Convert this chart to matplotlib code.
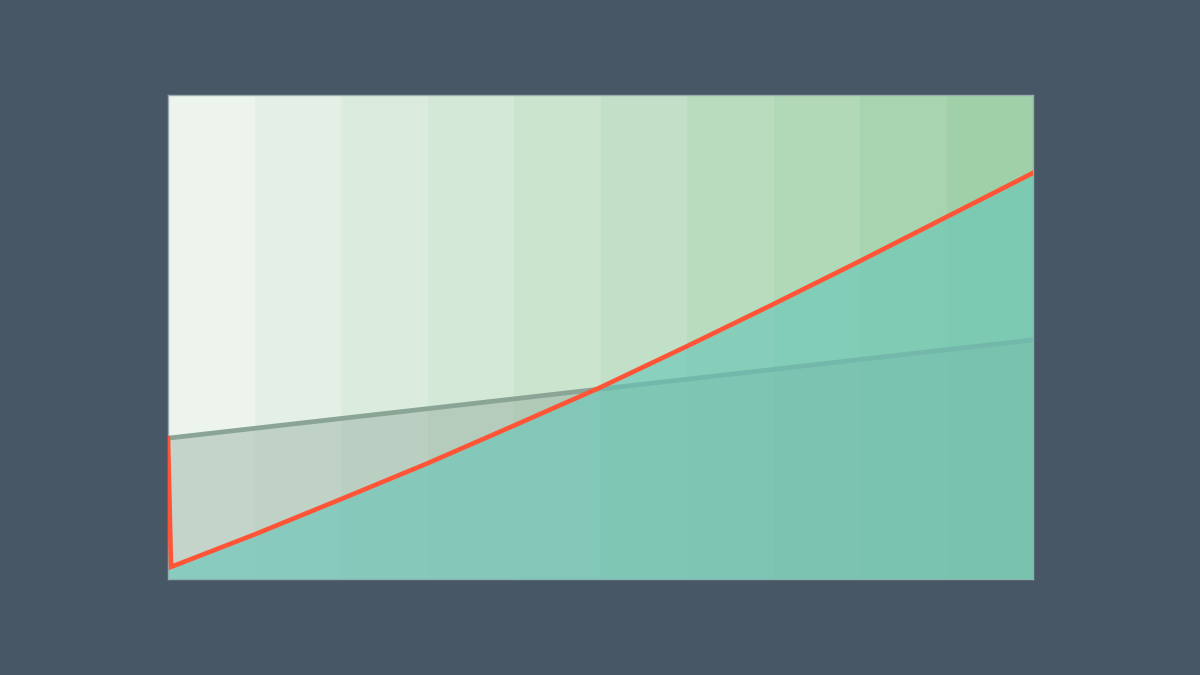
import numpy as np
import matplotlib
matplotlib.use("Agg")
import matplotlib.pyplot as plt
from matplotlib.colors import to_rgb

# data (x = band index, y = 0..100)
gray_x = [0, 10]
gray_y = [29.1, 49.4]

red_x = [0, 0.035, 1, 2, 3, 4, 5, 6, 7, 8, 9, 10]
red_y = [29.1, 2.5, 9.2, 16.5, 23.9, 31.7, 39.6, 48.1, 56.8, 65.7, 74.8, 83.9]

n_bands = 10

BG = "#475766"
BAND_START = "#ecf4ed"
BAND_END = "#a0d0a8"
GRAY = "#8aa496"
TEAL = "#64c6b8"
RED = "#ff5436"

fig = plt.figure(figsize=(12, 6.75), dpi=100, facecolor=BG)
ax = fig.add_axes([168 / 1200, 96 / 675, 865 / 1200, 484 / 675])

# vertical background bands, light to green
c0 = np.array(to_rgb(BAND_START))
c1 = np.array(to_rgb(BAND_END))
for i in range(n_bands):
    t = i / (n_bands - 1)
    ax.axvspan(i, i + 1, color=c0 + (c1 - c0) * t, lw=0, zorder=0)

# gray series
ax.fill_between(gray_x, gray_y, 0, color=GRAY, alpha=0.4, lw=0, zorder=1)
ax.plot(gray_x, gray_y, color=GRAY, lw=3.4, solid_capstyle="butt", zorder=2)

# teal area under red line
ax.fill_between(red_x, red_y, 0, color=TEAL, alpha=0.6, lw=0, zorder=3)
ax.plot(red_x, red_y, color=RED, lw=3.3, solid_joinstyle="miter", zorder=4)

ax.set_xlim(0, n_bands)
ax.set_ylim(0, 100)
ax.set_xticks([])
ax.set_yticks([])
for s in ax.spines.values():
    s.set_color("#9aaaae")
    s.set_linewidth(1)

fig.savefig("out.png", dpi=100, facecolor=BG)
